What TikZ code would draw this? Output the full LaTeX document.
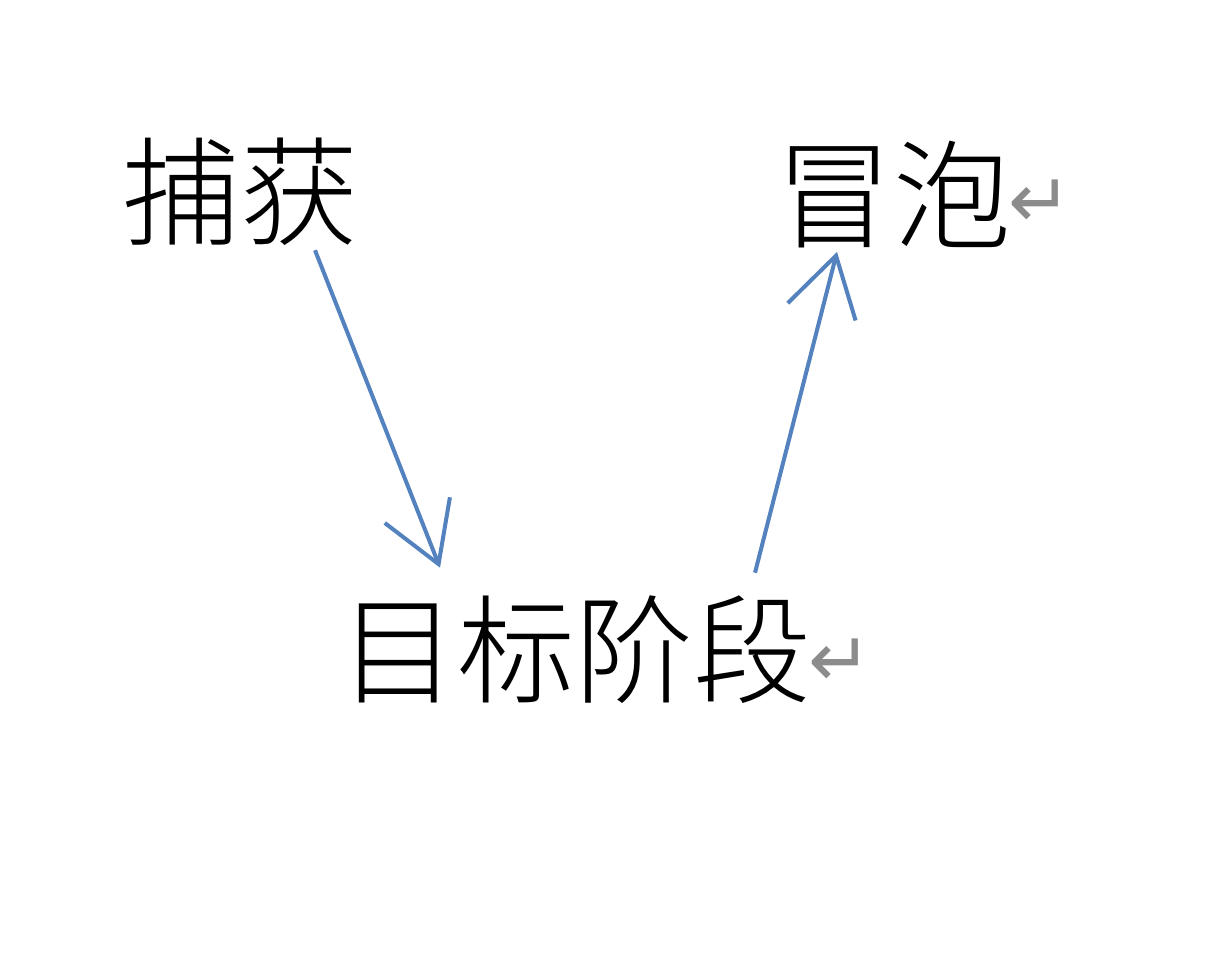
\documentclass[tikz,border=0pt]{standalone}
\usepackage{fontspec}
\newfontfamily\cjk{Noto Sans CJK SC Light}
\newfontfamily\sym{DejaVu Sans}
\usetikzlibrary{arrows.meta,calc}
\definecolor{arrowblue}{RGB}{84,130,190}
\definecolor{markgray}{RGB}{140,140,140}
\tikzset{
  word/.style={inner sep=0pt, font=\cjk\fontsize{59pt}{59pt}\selectfont},
  retmark/.style={inner sep=0pt, text=markgray, font=\sym\fontsize{38pt}{38pt}\selectfont},
  arr/.style={draw=arrowblue, line width=2pt, -{Straight Barb[length=29pt,width=35pt,line width=2pt]}}
}
\begin{document}
\begin{tikzpicture}[x=0.5pt,y=-0.5pt]
\useasboundingbox (0,0) rectangle (1218,960);
\fill[white] (0,0) rectangle (1218,960);
\node[word] (a) at (240,192) {捕获};
\node[word] (b) at (893,195) {冒泡};
\node[word] (c) at (575,650) {目标阶段};
\node[retmark] (rb) at (1040,204) {↵};
\node[retmark] (rc) at (840,663) {↵};
\draw[arr] ($(a.south)+(75,4)$) -- ($(c.north)+(-135,-28)$);
\draw[arr] ($(c.north)+(180,-23)$) -- ($(b.south)+(-56,3)$);
\end{tikzpicture}
\end{document}
